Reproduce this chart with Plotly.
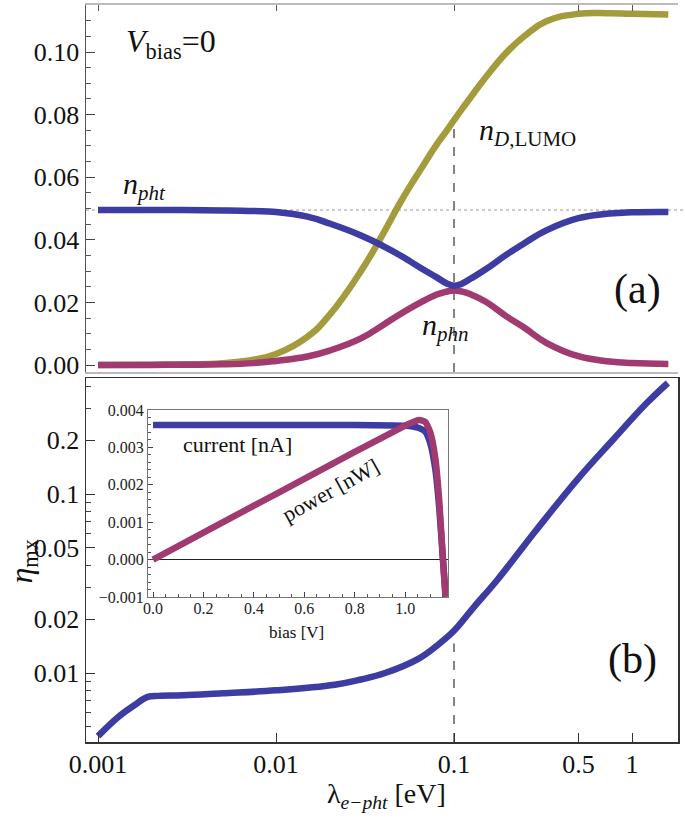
import plotly.graph_objects as go

W, H = 685, 819

# ---------------- data ----------------
# panel (a): occupations vs lambda_e-pht [eV]
lam_a = [0.001, 0.002, 0.003, 0.005, 0.0075, 0.01, 0.015, 0.02, 0.03, 0.04, 0.05,
         0.065, 0.08, 0.09, 0.1, 0.11, 0.125, 0.15, 0.2, 0.25, 0.33, 0.5, 0.75, 1.0, 1.6]
n_pht = [0.0495, 0.0495, 0.0495, 0.0494, 0.0492, 0.0489, 0.0474, 0.0452, 0.0414, 0.0380, 0.0350,
         0.0310, 0.0280, 0.0262, 0.0253, 0.0259, 0.0277, 0.0305, 0.0355, 0.0390, 0.0430, 0.0469,
         0.0484, 0.0488, 0.0489]
n_dlumo = [0.0000, 0.0001, 0.0002, 0.0006, 0.0017, 0.0035, 0.0090, 0.0160, 0.0300, 0.0420, 0.0520,
           0.0625, 0.0705, 0.0745, 0.0782, 0.0815, 0.0858, 0.0918, 0.1002, 0.1052, 0.1098, 0.1122,
           0.1124, 0.1122, 0.1120]
n_phn = [0.0000, 0.0000, 0.0001, 0.0002, 0.0006, 0.0013, 0.0027, 0.0046, 0.0085, 0.0128, 0.0163,
         0.0200, 0.0225, 0.0234, 0.0238, 0.0235, 0.0225, 0.0203, 0.0153, 0.0118, 0.0071, 0.0028,
         0.0011, 0.0006, 0.0003]

# panel (b): efficiency vs lambda
lam_b = [0.001, 0.0013, 0.0016, 0.0019, 0.0022, 0.003, 0.005, 0.01, 0.0214, 0.03, 0.041,
         0.063, 0.08, 0.1, 0.13, 0.175, 0.29, 0.49, 0.78, 1.21, 1.59]
eta_mx = [0.00444, 0.00568, 0.0066, 0.00735, 0.00745, 0.0075, 0.0077, 0.0080, 0.0086, 0.0092, 0.0100,
          0.0120, 0.0142, 0.0172, 0.0235, 0.0331, 0.0629, 0.1197, 0.2004, 0.322, 0.417]

# inset: current and power vs bias
bias_v = [0.0, 0.2, 0.4, 0.6, 0.8, 1.0, 1.03, 1.055, 1.08, 1.10, 1.12, 1.135, 1.15, 1.16]
current_na = [0.0036, 0.0036, 0.0036, 0.0036, 0.0036, 0.00358, 0.00356, 0.00352, 0.00342, 0.0031,
              0.0024, 0.0014, 0.0, -0.0009]
power_nw = [0.0, 0.00072, 0.00144, 0.00216, 0.00288, 0.00358, 0.00367, 0.00373, 0.00368, 0.0034,
            0.0027, 0.0016, 0.0, -0.001]

x_tickvals = [0.001, 0.01, 0.1, 0.5, 1]
x_ticktext = ["0.001", "0.01", "0.1", "0.5", "1"]
ya_tickvals = [0.0, 0.02, 0.04, 0.06, 0.08, 0.10]
ya_minor = [0.005, 0.01, 0.015, 0.025, 0.03, 0.035, 0.045, 0.05, 0.055, 0.065, 0.07, 0.075,
            0.085, 0.09, 0.095, 0.105, 0.11]
yb_tickvals = [0.01, 0.02, 0.05, 0.1, 0.2]
yb_ticktext = ["0.01", "0.02", "0.05", "0.1", "0.2"]
yb_minor = [0.005, 0.006, 0.007, 0.008, 0.009, 0.03, 0.04, 0.06, 0.07, 0.08, 0.09, 0.3, 0.4]
in_x_tickvals = [0.0, 0.2, 0.4, 0.6, 0.8, 1.0]
in_x_ticktext = ["0.0", "0.2", "0.4", "0.6", "0.8", "1.0"]
in_x_minor = [0.05, 0.1, 0.15, 0.25, 0.3, 0.35, 0.45, 0.5, 0.55, 0.65, 0.7, 0.75, 0.85, 0.9, 0.95,
              1.05, 1.1, 1.15]
in_y_tickvals = [-0.001, 0.0, 0.001, 0.002, 0.003, 0.004]
in_y_minor = [-0.0008, -0.0006, -0.0004, -0.0002, 0.0002, 0.0004, 0.0006, 0.0008, 0.0012, 0.0014,
              0.0016, 0.0018, 0.0022, 0.0024, 0.0026, 0.0028, 0.0032, 0.0034, 0.0036, 0.0038]
lam_mark = 0.1

# ---------------- styling ----------------
BLUE = "#3c3ca2"
OLIVE = "#a39b3c"
PURPLE = "#a03a70"
SERIF = "Liberation Serif, Times New Roman, Times, DejaVu Serif, serif"


def fx(px):
    return px / W


def fy(py):
    return 1 - py / H


X_L, X_R = 86, 678
DEC = 178.0
LOGX0 = -3 - (98 - X_L) / DEC
LOGX1 = LOGX0 + (X_R - X_L) / DEC

fig = go.Figure()
lw = 6.5
sm = 1.3
fig.add_trace(go.Scatter(x=lam_a, y=n_dlumo, mode="lines", line=dict(color=OLIVE, width=lw, shape="spline", smoothing=sm),
                         xaxis="x", yaxis="y", showlegend=False, hoverinfo="skip"))
fig.add_trace(go.Scatter(x=lam_a, y=n_phn, mode="lines", line=dict(color=PURPLE, width=lw, shape="spline", smoothing=sm),
                         xaxis="x", yaxis="y", showlegend=False, hoverinfo="skip"))
fig.add_trace(go.Scatter(x=lam_a, y=n_pht, mode="lines", line=dict(color=BLUE, width=lw, shape="spline", smoothing=sm),
                         xaxis="x", yaxis="y", showlegend=False, hoverinfo="skip"))
fig.add_trace(go.Scatter(x=lam_b, y=eta_mx, mode="lines", line=dict(color=BLUE, width=lw, shape="spline", smoothing=1.1),
                         xaxis="x2", yaxis="y2", showlegend=False, hoverinfo="skip"))
fig.add_trace(go.Scatter(x=bias_v, y=current_na, mode="lines", line=dict(color=BLUE, width=6.5, shape="spline", smoothing=0.5),
                         xaxis="x3", yaxis="y3", showlegend=False, hoverinfo="skip"))
fig.add_trace(go.Scatter(x=bias_v, y=power_nw, mode="lines", line=dict(color=PURPLE, width=6.5, shape="spline", smoothing=0.5),
                         xaxis="x3", yaxis="y3", showlegend=False, hoverinfo="skip"))

tick_font = dict(family=SERIF, size=26, color="#111")
small_font = dict(family=SERIF, size=16, color="#222")

ya_lo = -(372 - 365) / 3130.0
ya_hi = (365 - 5) / 3130.0
yb_lo = -2 - (742 - 673) / 179.0
yb_hi = yb_lo + (742 - 378) / 179.0

fig.update_layout(
    width=W, height=H,
    margin=dict(l=0, r=0, t=0, b=0, autoexpand=False),
    paper_bgcolor="white", plot_bgcolor="white",
    font=dict(family=SERIF),
    xaxis=dict(type="log", domain=[fx(X_L), fx(X_R)], range=[LOGX0, LOGX1], anchor="y", side="top",
               tickmode="array", tickvals=x_tickvals, showticklabels=False, ticks="inside", ticklen=6,
               tickcolor="#555", showline=True, linecolor="#bbbbbb", linewidth=2, mirror=True,
               showgrid=False, zeroline=False, automargin=False),
    yaxis=dict(domain=[fy(372), fy(5)], range=[ya_lo, ya_hi], anchor="x",
               tickmode="array", tickvals=ya_tickvals, tickformat=".2f", tickfont=tick_font,
               ticks="inside", ticklen=9, tickcolor="#444", showline=True, linecolor="#555", linewidth=1.5,
               showgrid=False, zeroline=False, automargin=False,
               minor=dict(tickmode="array", tickvals=ya_minor, ticks="inside", ticklen=5, tickcolor="#555")),
    xaxis2=dict(type="log", domain=[fx(X_L), fx(X_R)], range=[LOGX0, LOGX1], anchor="y2",
                tickmode="array", tickvals=x_tickvals, ticktext=x_ticktext, tickfont=tick_font,
                ticks="inside", ticklen=9, tickcolor="#333", showline=True, linecolor="#333", linewidth=1.5,
                mirror=True, showgrid=False, zeroline=False, automargin=False, ticklabelstandoff=-2),
    yaxis2=dict(type="log", domain=[fy(742), fy(378)], range=[yb_lo, yb_hi], anchor="x2",
                tickmode="array", tickvals=yb_tickvals, ticktext=yb_ticktext, tickfont=tick_font,
                ticks="inside", ticklen=9, tickcolor="#333", showline=True, linecolor="#333", linewidth=1.5,
                mirror=True, showgrid=False, zeroline=False, automargin=False,
                minor=dict(tickmode="array", tickvals=yb_minor, ticks="inside", ticklen=5, tickcolor="#444")),
    xaxis3=dict(domain=[fx(148), fx(448)], range=[-0.02, 1.17], anchor="y3",
                tickmode="array", tickvals=in_x_tickvals, ticktext=in_x_ticktext, tickfont=small_font,
                ticks="inside", ticklen=5, tickcolor="#444", showline=True, linecolor="#777", linewidth=1,
                mirror=True, showgrid=False, zeroline=False, automargin=False, ticklabelstandoff=-3,
                minor=dict(tickmode="array", tickvals=in_x_minor, ticks="inside", ticklen=3, tickcolor="#555")),
    yaxis3=dict(domain=[fy(597), fy(410)], range=[-0.001, 0.004], anchor="x3",
                tickmode="array", tickvals=in_y_tickvals, tickformat=".3f", tickfont=small_font,
                ticks="inside", ticklen=5, tickcolor="#444", showline=True, linecolor="#777", linewidth=1,
                mirror=True, showgrid=False, zeroline=True, zerolinecolor="#222", zerolinewidth=1,
                automargin=False,
                minor=dict(tickmode="array", tickvals=in_y_minor, ticks="inside", ticklen=3, tickcolor="#555")),
)

# reference lines
i_mark = lam_a.index(lam_mark)
fig.add_shape(type="line", xref="x", yref="y", x0=lam_mark, x1=lam_mark, y0=ya_lo, y1=n_dlumo[i_mark],
              line=dict(color="#444", width=1.3, dash="dash"), layer="below")
fig.add_shape(type="line", xref="paper", yref="y", x0=fx(X_L), x1=1.0, y0=n_pht[0], y1=n_pht[0],
              line=dict(color="#999", width=1, dash="dot"), layer="below")
j_mark = lam_b.index(lam_mark)
fig.add_shape(type="line", xref="x2", yref="y2", x0=lam_mark, x1=lam_mark, y0=10 ** yb_lo, y1=eta_mx[j_mark] * 0.85,
              line=dict(color="#444", width=1.3, dash="dash"), layer="below")

ann = [
    dict(x=fx(171), y=fy(43), text="<i>V</i><sub>bias</sub>=0", size=32),
    dict(x=fx(144), y=fy(186), text="<i>n</i><sub><i>pht</i></sub>", size=30),
    dict(x=fx(527), y=fy(132), text="<i>n</i><sub><i>D</i>,LUMO</sub>", size=30),
    dict(x=fx(445), y=fy(327), text="<i>n</i><sub><i>phn</i></sub>", size=30),
    dict(x=fx(637), y=fy(289), text="(a)", size=42),
    dict(x=fx(632), y=fy(659), text="(b)", size=42),
    dict(x=fx(386), y=fy(795), text="λ<sub><i>e−pht</i></sub> [eV]", size=28),
    dict(x=fx(237), y=fy(445), text="current [nA]", size=22),
    dict(x=fx(296), y=fy(632), text="bias [V]", size=17),
]
for a in ann:
    fig.add_annotation(x=a["x"], y=a["y"], xref="paper", yref="paper", text=a["text"], showarrow=False,
                       xanchor="center", yanchor="middle", font=dict(family=SERIF, size=a["size"], color="#111"))
fig.add_annotation(x=fx(330), y=fy(490), xref="paper", yref="paper", text="power [nW]", showarrow=False,
                   textangle=-29, xanchor="center", yanchor="middle", font=dict(family=SERIF, size=22, color="#111"))
fig.add_annotation(x=0.0, y=fy(561), xref="paper", yref="paper", text="<i>η</i><sub>mx</sub>", showarrow=False,
                   textangle=-90, xanchor="left", yanchor="middle", font=dict(family=SERIF, size=32, color="#111"))

fig.write_html("out.html", config={"displayModeBar": False, "staticPlot": True},
               post_script="document.body.style.margin='0px';")
